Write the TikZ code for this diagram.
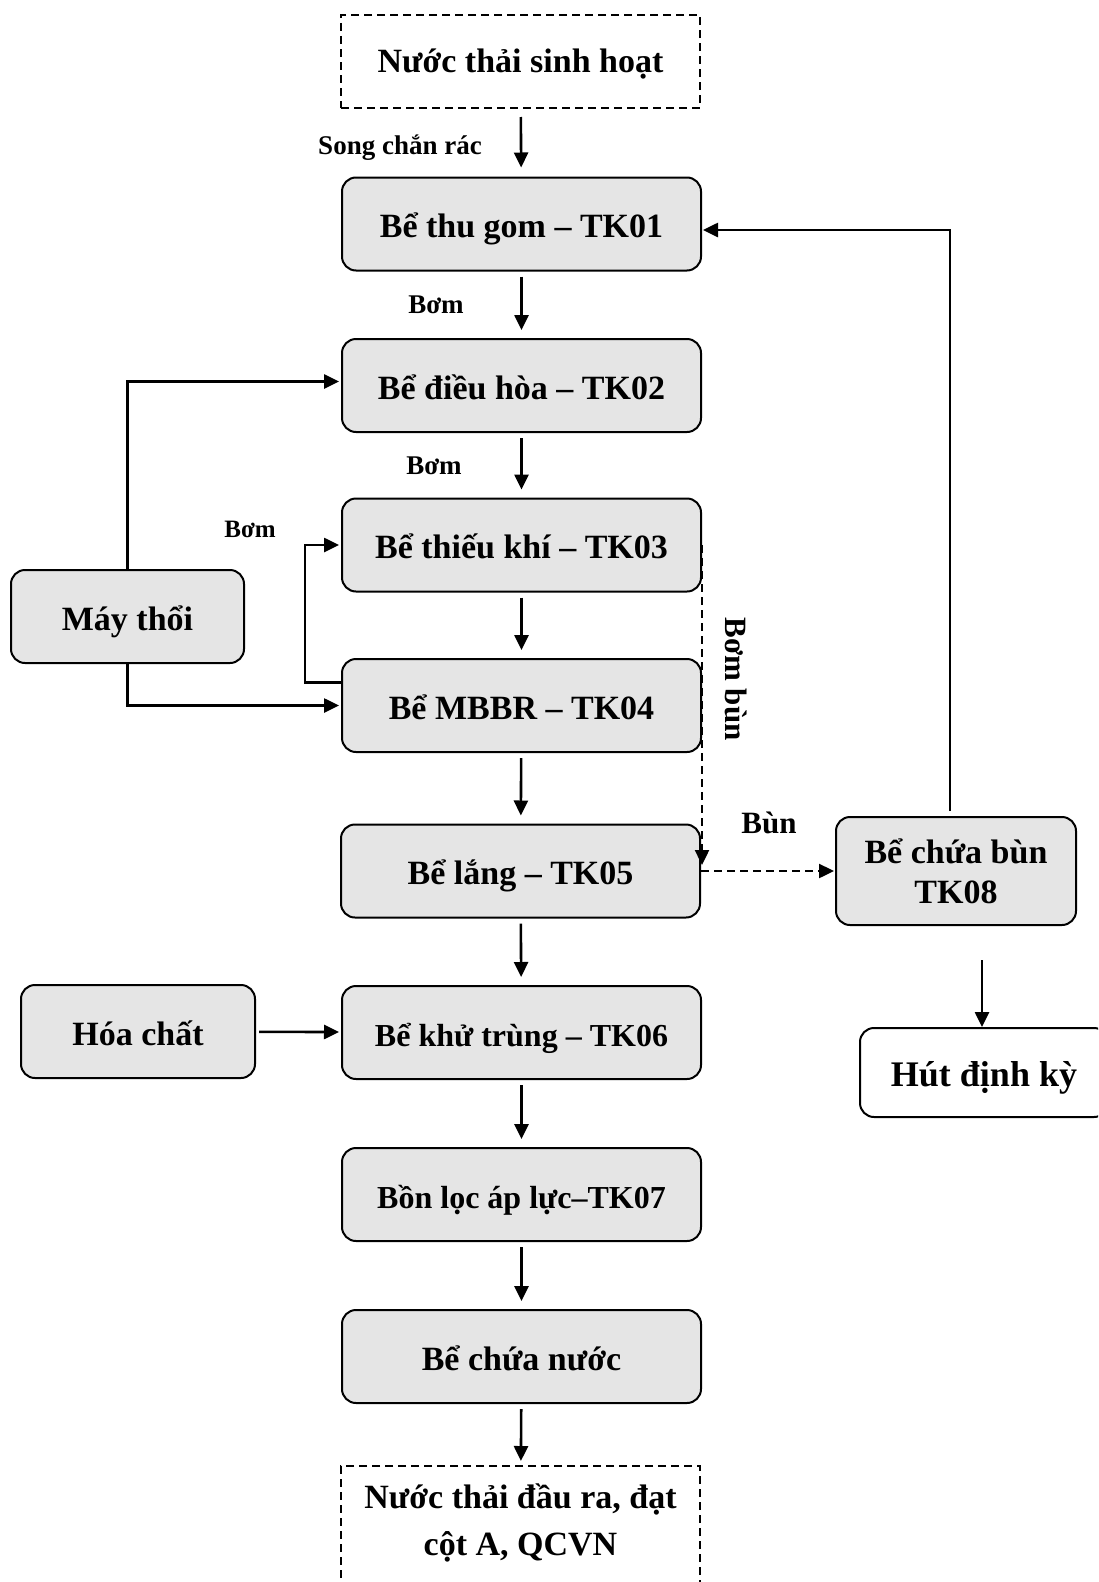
\documentclass[tikz,border=0pt]{standalone}
\usepackage{fontspec}
\setmainfont{Liberation Serif}
\usetikzlibrary{arrows.meta}

\tikzset{
  tank/.style={draw, fill=black!10, rounded corners=14pt, line width=2pt,
    minimum width=359pt, minimum height=93pt, inner sep=0pt, align=center,
    font=\fontsize{34}{40}\selectfont\bfseries},
  oneline/.style={text height=27pt, text depth=0pt},
  source/.style={draw, dash pattern=on 8pt off 5pt, line width=2pt,
    minimum width=359pt, minimum height=93pt, inner sep=0pt, align=center,
    font=\fontsize{34}{47}\selectfont\bfseries},
  flow/.style={-{Triangle[length=15pt,width=14pt]}, line width=2.6pt},
  sludge/.style={flow, line width=2.4pt, dash pattern=on 8pt off 5pt},
  tag/.style={font=\fontsize{27}{32}\selectfont\bfseries}
}

\begin{document}
\begin{tikzpicture}[x=1pt,y=-1pt]
    \useasboundingbox (0,0) rectangle (1098,1582);
    \clip (0,0) rectangle (1098,1582);

    % main line
    \node[source, oneline, text height=21pt] (in) at (520.5,61.5) {Nước thải sinh hoạt};
    \node[tank, oneline] (tk01) at (521.5,224) {Bể thu gom -- TK01};
    \node[tank, oneline] (tk02) at (521.5,385.5) {Bể điều hòa -- TK02};
    \node[tank, oneline] (tk03) at (521.5,545) {Bể thiếu khí -- TK03};
    \node[tank, oneline] (tk04) at (521.5,705.5) {Bể MBBR -- TK04};
    \node[tank, oneline] (tk05) at (520.5,871) {Bể lắng -- TK05};
    \node[tank, oneline, font=\fontsize{32}{38}\selectfont\bfseries] (tk06) at (521.5,1032.5) {Bể khử trùng -- TK06};
    \node[tank, oneline, font=\fontsize{32}{38}\selectfont\bfseries] (tk07) at (521.5,1194.5) {Bồn lọc áp lực--TK07};
    \node[tank, oneline] (clean) at (521.5,1356.5) {Bể chứa nước};
    \node[source, anchor=north, minimum height=140pt, text depth=32pt] (out) at (520.5,1465) {Nước thải đầu ra, đạt\\cột A, QCVN};

    % side units
    \node[tank, oneline, minimum width=233pt] (blower) at (127.5,616.5) {Máy thổi};
    \node[tank, oneline, minimum width=234pt] (chem) at (138,1031.5) {Hóa chất};
    \node[tank, minimum width=240pt, minimum height=108pt] (tk08) at (956,871) {Bể chứa bùn\\TK08};
    \node[tank, oneline, fill=white, minimum width=248pt, minimum height=89pt,
      font=\fontsize{36}{42}\selectfont\bfseries] (pump) at (984,1072.5) {Hút định kỳ};

    % labels
    \node[tag] (screen) at (400,148) {Song chắn rác};
    \node[tag] (pump1) at (436,305) {Bơm};
    \node[tag] (pump2) at (434,466) {Bơm};
    \node[tag, font=\fontsize{25}{30}\selectfont\bfseries] (pump3) at (250,529) {Bơm};
    \node[tag, rotate=-90, font=\fontsize{31}{36}\selectfont\bfseries] (sludgepump) at (736,679) {Bơm bùn};
    \node[tag, font=\fontsize{31}{36}\selectfont\bfseries] (sludge) at (769,823) {Bùn};

    % connectors
    \draw[flow, shorten <=8pt, shorten >=9pt] (in) -- (tk01);
    \draw[flow, shorten <=5pt, shorten >=8pt] (tk01) -- (tk02);
    \draw[flow, shorten <=5pt, shorten >=8pt] (tk02) -- (tk03);
    \draw[flow, shorten <=5pt, shorten >=8pt] (tk03) -- (tk04);
    \draw[flow, shorten <=5pt, shorten >=8pt] (tk04) -- (tk05);
    \draw[flow, shorten <=5pt, shorten >=8pt] (tk05) -- (tk06);
    \draw[flow, shorten <=5pt, shorten >=8pt] (tk06) -- (tk07);
    \draw[flow, shorten <=5pt, shorten >=8pt] (tk07) -- (clean);
    \draw[flow, shorten <=5pt, shorten >=4pt] (clean) -- (out);

    \draw[flow, shorten >=2pt] (blower.north) |- ([yshift=4pt]tk02.west);
    \draw[flow, shorten >=2pt] (blower.south) |- (tk04.west);
    \draw[flow, shorten >=2pt] ([yshift=23pt]tk04.west) -- ++(-36,0) |- (tk03.west);
    \draw[flow, shorten <=3pt, shorten >=2pt] (chem) -- (tk06);

    \draw[sludge, shorten >=6pt] (tk03.east) -- (tk03.east |- tk05.east);
    \draw[sludge, shorten >=1pt] (tk05.east) -- (tk08.west);
    \draw[flow, shorten <=5pt, shorten >=1pt] ([xshift=-6pt]tk08.north) |- ([yshift=-6pt]tk01.east);
    \draw[flow, shorten <=34pt] ([xshift=26pt]tk08.south) -- ([xshift=26pt]tk08.south |- pump.north);
\end{tikzpicture}
\end{document}
